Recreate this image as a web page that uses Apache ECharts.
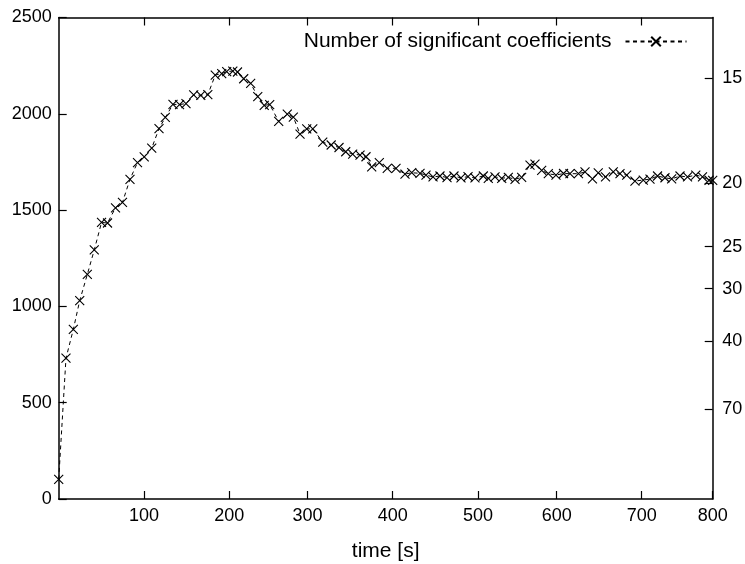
<!DOCTYPE html>
<html>
<head>
<meta charset="utf-8">
<script src="https://cdn.jsdelivr.net/npm/echarts@6/dist/echarts.min.js"></script>
<style>html,body{margin:0;padding:0;background:#fff}#c{width:745px;height:564px}</style>
</head>
<body>
<div id="c"></div>
<script>
// time positions (axis units) of the samples
const timeValues = [0, 8.9, 17.9, 25.7, 35.0, 43.5, 52.4, 59.7, 69.5, 78.0, 87.2, 96.4, 104.6, 113.8, 122.7, 130.4,
  139.8, 147.8, 155.7, 165.1, 173.8, 182.4, 191.5, 199.4, 205.5, 213.0, 218.7, 226.3, 234.8, 243.5, 251.4, 258.1,
  269.1, 279.6, 287.0, 295.2, 303.4, 310.8, 323.0, 333.3, 342.9, 351.1, 359.6, 368.6, 375.9, 382.9, 392.2, 401.9,
  412.6, 423.6, 431.8, 442.0, 449.3, 457.9, 466.4, 475.0, 483.5, 492.1, 500.7, 509.2, 519.4, 525.5, 533.7, 541.9,
  550.0, 558.2, 566.3, 576.5, 582.6, 590.8, 598.9, 608.3, 617.5, 625.4, 635.8, 643.8, 652.9, 660.0, 668.9, 678.4,
  686.6, 694.8, 704.9, 715.1, 723.3, 732.5, 741.6, 749.8, 760.0, 769.2, 779.3, 787.5, 795.5, 800];
// number of significant coefficients
const coeffValues = [102, 731, 881, 1030, 1166, 1293, 1436, 1433, 1512, 1540, 1660, 1747, 1776, 1822, 1923, 1981,
  2049, 2048, 2053, 2098, 2096, 2099, 2201, 2209, 2219, 2222, 2217, 2182, 2158, 2089, 2044, 2048,
  1961, 1998, 1983, 1895, 1922, 1922, 1853, 1838, 1825, 1803, 1791, 1786, 1777, 1725, 1746, 1717,
  1717, 1687, 1694, 1691, 1682, 1672, 1677, 1669, 1677, 1667, 1674, 1667, 1677, 1665, 1673, 1665,
  1670, 1660, 1670, 1734, 1739, 1706, 1689, 1682, 1690, 1689, 1689, 1698, 1662, 1693, 1672, 1698,
  1689, 1682, 1651, 1656, 1661, 1677, 1668, 1662, 1677, 1672, 1682, 1673, 1655, 1654];
// x tick positions and labels
const xTickPositions = [104.3, 208.7, 304.3, 408.6, 512.9, 609.2, 713.1, 800];
const xTickLabels = ['100', '200', '300', '400', '500', '600', '700', '800'];
// right axis: labels n placed at 32768/n
const rightTickLabels = [15, 20, 25, 30, 40, 70];
const rightTickNumerator = 32768;
const seriesName = 'Number of significant coefficients';

const font = "'Liberation Sans', Arial, Helvetica, sans-serif";
const rightTickPositions = rightTickLabels.map(n => rightTickNumerator / n);
const axisLine = { show: true, onZero: false, lineStyle: { color: '#000', width: 1.5 } };
const tickStyle = { color: '#000', width: 1.2 };

const chart = echarts.init(document.getElementById('c'), null, { renderer: 'canvas' });
chart.setOption({
  animation: false,
  backgroundColor: '#fff',
  textStyle: { fontFamily: font },
  grid: { left: 58.7, right: 32.3, top: 17.5, bottom: 65, containLabel: false, outerBoundsMode: 'none' },
  legend: {
    show: true,
    right: 57.5, top: 31,
    padding: 0,
    align: 'right',
    itemWidth: 61, itemHeight: 12,
    textStyle: { fontSize: 21, color: '#000', fontFamily: font, padding: [0, 9, 0, 0] },
    data: [seriesName]
  },
  xAxis: [{
    type: 'value', min: 0, max: 800, position: 'bottom',
    axisLine: axisLine,
    splitLine: { show: false },
    axisTick: { show: true, inside: true, length: 8, lineStyle: tickStyle, customValues: xTickPositions },
    axisLabel: {
      show: true, margin: 8, fontSize: 18, color: '#000', fontFamily: font,
      customValues: xTickPositions,
      formatter: v => { const i = xTickPositions.indexOf(v); return i >= 0 ? xTickLabels[i] : ''; }
    },
    name: 'time [s]', nameLocation: 'middle', nameGap: 42,
    nameTextStyle: { fontSize: 21, color: '#000', fontFamily: font }
  }, {
    type: 'value', min: 0, max: 800, position: 'top',
    axisLine: axisLine,
    splitLine: { show: false },
    axisTick: { show: true, inside: true, length: 8, lineStyle: tickStyle, customValues: xTickPositions.slice(0, 7) },
    axisLabel: { show: false }
  }],
  yAxis: [{
    type: 'value', min: 0, max: 2500, interval: 500, position: 'left',
    axisLine: axisLine,
    splitLine: { show: false },
    axisTick: { show: true, inside: true, length: 8, lineStyle: tickStyle },
    axisLabel: { show: true, margin: 7, fontSize: 18, color: '#000', fontFamily: font, formatter: v => String(v) }
  }, {
    type: 'value', min: 0, max: 2500, position: 'right',
    axisLine: axisLine,
    splitLine: { show: false },
    axisTick: { show: true, inside: true, length: 8, lineStyle: tickStyle, customValues: rightTickPositions },
    axisLabel: {
      show: true, margin: 9.5, fontSize: 18, color: '#000', fontFamily: font,
      customValues: rightTickPositions,
      formatter: v => String(Math.round(rightTickNumerator / v))
    }
  }],
  series: [{
    name: seriesName,
    type: 'line',
    xAxisIndex: 0, yAxisIndex: 0,
    data: timeValues.map((t, i) => [t, coeffValues[i]]),
    symbol: 'path://M0,0L10,10M10,0L0,10',
    symbolSize: 9,
    showAllSymbol: true,
    clip: false,
    lineStyle: { color: '#000', width: 1, type: [4, 3.5] },
    itemStyle: { color: '#000', borderColor: '#000', borderWidth: 1.1 },
    emphasis: { disabled: true }
  }]
});
</script>
</body>
</html>
